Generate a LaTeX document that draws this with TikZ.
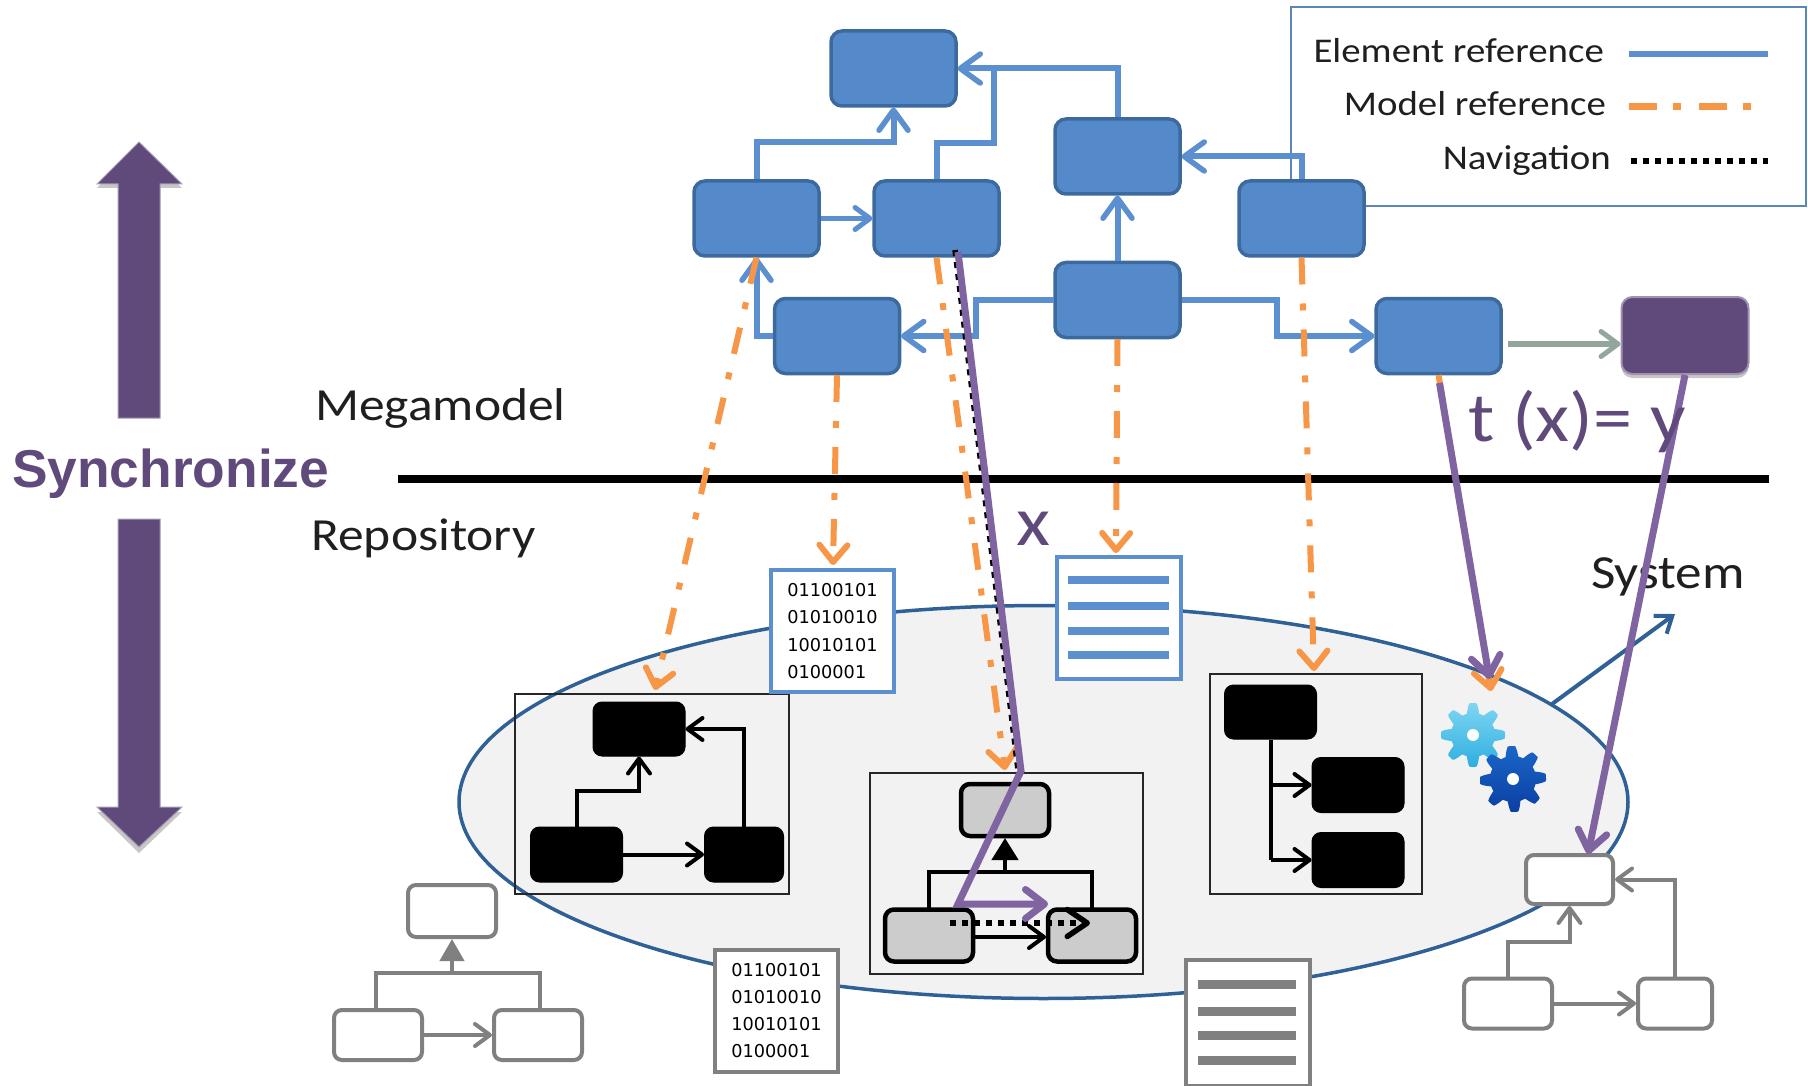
\documentclass[tikz,border=0pt]{standalone}
\usepackage{fontspec}
\setmainfont{Carlito}[FakeStretch=1.12]
\newfontfamily\arialb{Liberation Sans}[BoldFont={Liberation Sans Bold}]
\newfontfamily\dejav{DejaVu Sans}
\usetikzlibrary{arrows.meta,calc,shadows,shapes.geometric}
\definecolor{blueF}{HTML}{558ACA}
\definecolor{blueD}{HTML}{3D6A9E}
\definecolor{blueL}{HTML}{5B8FD0}
\definecolor{legendB}{HTML}{5C86B8}
\definecolor{orangeL}{HTML}{F79646}
\definecolor{purpD}{HTML}{604A7B}
\definecolor{purpL}{HTML}{8064A2}
\definecolor{ellF}{HTML}{F2F2F2}
\definecolor{ellD}{HTML}{2F6096}
\definecolor{greyL}{HTML}{808080}
\definecolor{greenG}{HTML}{93A69C}
\definecolor{gearAt}{HTML}{7ED6F2}
\definecolor{gearAb}{HTML}{2FAEE0}
\definecolor{gearBt}{HTML}{1A66C8}
\definecolor{gearBb}{HTML}{0B3FA3}
\newcommand{\sz}[1]{\fontsize{#1}{#1}\selectfont}
\tikzset{
  bluebox/.style={draw=blueD,fill=blueF,line width=3.5pt,rounded corners=11pt,minimum width=125pt,minimum height=75pt,inner sep=0pt,outer sep=1.5pt},
  purpbox/.style={draw=purpD!60,fill=purpD,line width=2pt,rounded corners=11pt,minimum width=127pt,minimum height=77pt,inner sep=0pt,outer sep=1pt,general shadow={fill=black!22,shadow yshift=-4pt}},
  blackbox/.style={draw=black,fill=black,line width=1pt,rounded corners=9pt,inner sep=0pt,outer sep=0.5pt},
  graybox/.style={draw=black,fill=black!20,line width=4.5pt,rounded corners=9pt,inner sep=0pt,outer sep=2pt,minimum width=88pt,minimum height=52pt},
  ghost/.style={draw=greyL,fill=white,line width=4pt,rounded corners=8pt,inner sep=0pt,outer sep=2pt},
  frameb/.style={draw=black!85,line width=1.4pt,inner sep=0pt},
  blueref/.style={draw=blueL,line width=6pt,-{Straight Barb[length=20pt,width=29pt,line width=5.5pt,round]}},
  bluereft/.style={draw=blueL,line width=5pt,-{Straight Barb[length=15pt,width=22pt,line width=5pt,round]}},
  modelref/.style={draw=orangeL,line width=6pt,dash pattern=on 27pt off 19pt on 7pt off 19pt,-{Straight Barb[length=17pt,width=28pt,line width=6pt,round]}},
  purparrow/.style={draw=purpL,line width=7pt,-{Straight Barb[length=19pt,width=29pt,line width=7pt,round]}},
  blk/.style={draw=black,line width=4pt,-{Straight Barb[length=15pt,width=22pt,line width=4pt,round]}},
  gry/.style={draw=greyL,line width=4pt,-{Straight Barb[length=15pt,width=22pt,line width=4pt,round]}},
  navline/.style={draw=black,line width=5.5pt,dash pattern=on 6pt off 6pt},
  lab/.style={inner sep=0pt,font=\sz{46},text=black!88},
  bindoc/.style={line width=4pt,fill=white,minimum width=123pt,minimum height=122pt,inner sep=0pt,align=left,font=\dejav\fontsize{17.7}{27.2}\selectfont,outer sep=2pt},
  docbox/.style={line width=4pt,fill=white,minimum width=124pt,minimum height=122pt,inner sep=0pt,outer sep=2pt},
}
\begin{document}
\begin{tikzpicture}[x=1pt,y=-1pt]
\useasboundingbox (0,0) rectangle (1808,1086);

% Synchronize arrows
\fill[black!22] (139,146) -- (182,188) -- (160,188) -- (160,418) -- (118,418) -- (118,188) -- (97,188) -- cycle;
\filldraw[fill=purpD,draw=purpD!55,line width=1pt] (139,142) -- (182,184) -- (160,184) -- (160,418) -- (118,418) -- (118,184) -- (97,184) -- cycle;
\fill[black!22] (139,853) -- (182,812) -- (160,812) -- (160,519) -- (118,519) -- (118,812) -- (97,812) -- cycle;
\filldraw[fill=purpD,draw=purpD!55,line width=1pt] (139,847) -- (182,807) -- (160,807) -- (160,519) -- (118,519) -- (118,807) -- (97,807) -- cycle;
\node[inner sep=0pt,anchor=base west,text=purpD] (sync) at (12,487) {\arialb\bfseries\sz{53.3}Synchronize};

% divider and labels
\coordinate (divL) at (398,479);
\coordinate (divR) at (1769,479);
\draw[line width=8pt] (divL) -- (divR);
\node[lab,anchor=base west] (mega) at (315,420) {Megamodel};
\node[lab,anchor=base west] (repo) at (311,550) {Repository};

% repository ellipse
\node[draw=ellD,fill=ellF,line width=3.5pt,ellipse,minimum width=1169pt,minimum height=393pt,inner sep=0pt] (sys) at (1043.5,802) {};
\coordinate (sysTip) at (1675,614);
\coordinate (sysFoot) at (1552,704);
\draw[draw=ellD,line width=4pt,-{Straight Barb[length=15pt,width=22pt,line width=4pt]}] (sysFoot) -- (sysTip);
\node[lab,anchor=base,font=\sz{47.5}] (systemlab) at (1668,588) {System};

% frames
\node[frameb,minimum width=274pt,minimum height=200pt] (f1) at (652,794) {};
\node[frameb,minimum width=273pt,minimum height=201pt] (f2) at (1006.5,873.5) {};
\node[frameb,minimum width=212pt,minimum height=220pt] (f3) at (1316,784) {};

% left black model
\node[blackbox,minimum width=92pt,minimum height=54pt] (k1) at (639,729) {};
\node[blackbox,minimum width=92pt,minimum height=55pt] (k2) at (576.5,854.5) {};
\node[blackbox,minimum width=79pt,minimum height=55pt] (k3) at (744,854.5) {};
\draw[blk] (k2.east) -- (k3.west);
\draw[blk] (k3.north) |- (k1.east);
\draw[blk] (k2.north) -- ++(0,-36) -| (k1.south);

% middle grey model
\node[graybox] (g1) at (1005,810) {};
\node[graybox] (g2) at (929,935.5) {};
\node[graybox] (g3) at (1092,935.5) {};
\coordinate (gj) at (1005,872);
\draw[line width=4.5pt] (g2.north) |- (g3.north |- gj) -- (g3.north);
\draw[line width=4.5pt,-{Triangle[length=22pt,width=26pt]}] (gj) -- (g1.south);
\coordinate (ga) at (974,937);
\draw[blk] (g2.east |- ga) -- (g3.west |- ga);

% right black model
\node[blackbox,minimum width=92pt,minimum height=54pt] (r1) at (1270.5,712) {};
\node[blackbox,minimum width=92pt,minimum height=55pt] (r2) at (1358,785) {};
\node[blackbox,minimum width=92pt,minimum height=55pt] (r3) at (1358,860) {};
\draw[line width=4pt] (r1.south) -- (r1.south |- r3.west) ;
\draw[blk] (r1.south |- r2.west) -- (r2.west);
\draw[blk] (r1.south |- r3.west) -- (r3.west);

% binary and doc boxes
\node[bindoc,draw=blueL] (b1) at (832.5,631) {01100101\\01010010\\10010101\\0100001};
\node[docbox,draw=blueL] (d1) at (1118.5,618) {};
\foreach \yy in {-38,-12,13,37} \draw[blueL,line width=8pt] ($(d1.center)+(-51,\yy)$) -- ++(101,0);
\node[bindoc,draw=greyL] (b2) at (776.5,1010.5) {01100101\\01010010\\10010101\\0100001};
\node[docbox,draw=greyL,minimum width=124pt,minimum height=126pt] (d2) at (1248,1023) {};
\foreach \yy in {-39,-12,12,37} \draw[greyL,line width=9pt] ($(d2.center)+(-50,\yy)$) -- ++(98,0);

% gears
\shade[top color=gearAt,bottom color=gearAb] plot[samples=193,domain=0:360,variable=\t] ({1473+(27+5*max(-1,min(1,1.6*cos(8*\t))))*cos(\t)},{735+(27+5*max(-1,min(1,1.6*cos(8*\t))))*sin(\t)}) -- cycle;
\fill[white] (1473,735) circle (6pt);
\shade[top color=gearBt,bottom color=gearBb] plot[samples=193,domain=0:360,variable=\t] ({1513+(28+5*max(-1,min(1,1.6*cos(8*\t+22))))*cos(\t)},{779+(28+5*max(-1,min(1,1.6*cos(8*\t+22))))*sin(\t)}) -- cycle;
\fill[white] (1513,779) circle (6pt);

% grey ghost models
\node[ghost,minimum width=88pt,minimum height=52pt] (h1) at (452,911) {};
\node[ghost,minimum width=88pt,minimum height=50pt] (h2) at (378,1035) {};
\node[ghost,minimum width=88pt,minimum height=50pt] (h3) at (538,1035) {};
\coordinate (hj) at (452,973);
\draw[greyL,line width=4pt] (376,1009) |- (540,973) -- (540,1009);
\draw[greyL,line width=4pt,-{Triangle[length=22pt,width=24pt]}] (hj) -- (h1.south);
\draw[gry] (h2.east) -- (h3.west);

\node[ghost,minimum width=87pt,minimum height=49pt] (s1) at (1569.5,879.5) {};
\node[ghost,minimum width=88pt,minimum height=50pt] (s2) at (1508,1003.5) {};
\node[ghost,minimum width=74pt,minimum height=50pt] (s3) at (1675,1003.5) {};
\draw[gry] (s2.east) -- (s3.west);
\draw[gry] (s3.north) |- (s1.east);
\draw[gry] (s2.north) -- ++(0,-35) -| (s1.south);

% legend
\node[draw=legendB,line width=1.6pt,minimum width=515pt,minimum height=199pt,inner sep=0pt] (leg) at (1548.5,106.5) {};
\node[lab,anchor=base east,font=\sz{34.7}] (l1) at (1604,63) {Element reference};
\node[lab,anchor=base east,font=\sz{34.7}] (l2) at (1606,116) {Model reference};
\node[lab,anchor=base east,font=\sz{34.7}] (l3) at (1611,170) {Navigation};
\coordinate (la1) at (1629,54); \coordinate (lb1) at (1768,54);
\coordinate (la2) at (1629,107); \coordinate (lb2) at (1768,107);
\coordinate (la3) at (1631,161); \coordinate (lb3) at (1768,161);
\draw[blueL,line width=6pt] (la1) -- (lb1);
\draw[orangeL,line width=7pt,dash pattern=on 28pt off 16pt on 8pt off 18pt] (la2) -- (lb2);
\draw[navline] (la3) -- (lb3);

% megamodel boxes
\node[bluebox] (A) at (893.5,68.5) {};
\node[bluebox] (B) at (756.5,218.5) {};
\node[bluebox] (C) at (936.5,218.5) {};
\node[bluebox] (D) at (1117.5,156.5) {};
\node[bluebox] (E) at (1301.5,218.5) {};
\node[bluebox] (F) at (837,336) {};
\node[bluebox] (G) at (1117.5,300) {};
\node[bluebox] (H) at (1438.5,336) {};
\node[purpbox] (I) at (1685,335.5) {};

% element references
\draw[bluereft] (B.east) -- (C.west);
\draw[blueref] (B.north) -- ++(0,-37) -| (A.south);
\coordinate (cA) at (994,143);
\draw[draw=blueL,line width=6pt] (C.north) |- (cA) -- (cA |- A.east);
\draw[blueref] (D.north) |- (A.east);
\draw[blueref] (E.north) |- (D.east);
\draw[blueref] (G.north) -- (D.south);
\draw[blueref] (F.west) -| (B.south);
\coordinate (gF) at (976,300);
\draw[blueref] (G.west) -- (gF) |- (F.east);
\coordinate (gH) at (1277,300);
\draw[blueref] (G.east) -- (gH) |- (H.west);
\coordinate (hI) at (1508,344);
\draw[draw=greenG,line width=5.5pt,-{Straight Barb[length=17pt,width=25pt,line width=5pt,round]}] (hI) -- (I.west |- hI);

% model references
\coordinate (t1) at (655,690);
\coordinate (t2) at (833,565);
\coordinate (t3) at (1005,770);
\coordinate (t4) at (1116,553);
\coordinate (t5) at (1314,671);
\coordinate (t6) at (1491,691);
\draw[modelref] (B.south) -- (t1);
\draw[modelref] (F.south) -- (t2);
\draw[modelref] (C.south) -- (t3);
\draw[modelref] (G.south) -- (t4);
\draw[modelref] (E.south) -- (t5);
\draw[modelref] (H.south) -- (t6);

% navigation
\coordinate (n1) at (955,250);
\coordinate (n2) at (1018,770);
\draw[navline] (n1) -- (n2);
\coordinate (n3) at (950,923);
\coordinate (n4) at (1090,923);
\draw[navline,-{Straight Barb[length=20pt,width=27pt,line width=5.5pt,round]}] (n3) -- (n4);

% transformation
\coordinate (p1) at (958,252);
\coordinate (p2) at (1021,771);
\coordinate (p3) at (958,904);
\coordinate (p4) at (1048,904);
\draw[purparrow] (p1) -- (p2) -- (p3) -- (p4);
\coordinate (q1) at (1489.5,679);
\draw[purparrow] ($(H.south)+(1,8)$) -- (q1);
\coordinate (q2) at (1588,854);
\draw[purparrow] (I.south) -- (q2);
\node[inner sep=0pt,anchor=base west,text=purpD,font=\sz{70}] (tx) at (1468,441) {t (x)= y};
\node[inner sep=0pt,anchor=base,text=purpD,font=\sz{70}] (xl) at (1033,545) {x};
\end{tikzpicture}
\end{document}
